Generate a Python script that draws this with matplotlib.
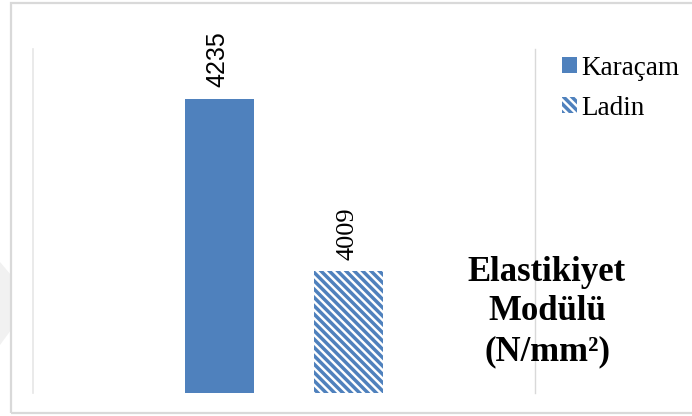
import matplotlib.pyplot as plt
from matplotlib.patches import Rectangle, Polygon

# elastic modulus of the two wood species
species = ['Karaçam', 'Ladin']
modulus = [4235, 4009]
label_fonts = ['Liberation Sans', 'Liberation Serif']
hatches = ['', '\\\\\\\\']
title = 'Elastikiyet\nModülü\n(N/mm²)'

blue = '#4F81BD'
plt.rcParams['hatch.linewidth'] = 2.5
plt.rcParams['hatch.color'] = blue

W, H = 692, 416
fig = plt.figure(figsize=(W / 100, H / 100), dpi=100)

# faint shape at the left edge and the outer frame
fig.patches.append(Polygon([(0, 1 - 262 / H), (11 / W, 1 - 275 / H), (11 / W, 1 - 330 / H),
                            (0, 1 - 345 / H)], closed=True, transform=fig.transFigure,
                           facecolor='#f1f1f1', edgecolor='none', zorder=0))
fig.patches.append(Rectangle((11.5 / W, 1 - 413 / H), (W + 20) / W, (410 / H),
                             transform=fig.transFigure, fill=False,
                             edgecolor='#d9d9d9', linewidth=1.6, zorder=0))

ax = fig.add_axes([33 / W, 1 - 393 / H, 502 / W, 344 / H])
ax.set_facecolor('none')

offsets = [-0.129, 0.129]
for name, val, off, h in zip(species, modulus, offsets, hatches):
    if h:
        ax.bar(off, val, width=0.137, color='white', edgecolor=blue, hatch=h,
               linewidth=0, label=name)
    else:
        ax.bar(off, val, width=0.137, color=blue, linewidth=0, label=name)

for off, val, fam in zip(offsets, modulus, label_fonts):
    ax.annotate(str(val), (off, val), xytext=(-1, 8.6), textcoords='offset points',
                rotation=90, ha='center', va='bottom',
                fontsize=18 if fam.endswith('Sans') else 19,
                fontfamily=fam, color='black')

ax.set_xlim(-0.5, 0.5)
ax.set_ylim(3850, 4300)
ax.set_xticks([])
ax.set_yticks([])
for s in ['top', 'bottom']:
    ax.spines[s].set_visible(False)
ax.spines['left'].set_color('#e6e6e6')
ax.spines['right'].set_color('#d9d9d9')
ax.spines['left'].set_linewidth(1.2)
ax.spines['right'].set_linewidth(1.0)

ax.legend(loc='upper left', bbox_to_anchor=(551 / W, 1 - 45 / H),
          bbox_transform=fig.transFigure, frameon=False,
          prop={'family': 'Liberation Serif', 'size': 19.5},
          handlelength=0.55, handleheight=0.55, handletextpad=0.15,
          labelspacing=0.55, borderaxespad=0)

fig.text(547 / W, 1 - 312 / H, title, ha='center', va='center', fontsize=25,
         fontweight='bold', fontfamily='Liberation Serif', linespacing=1.26)

fig.savefig('out.png', dpi=100)
